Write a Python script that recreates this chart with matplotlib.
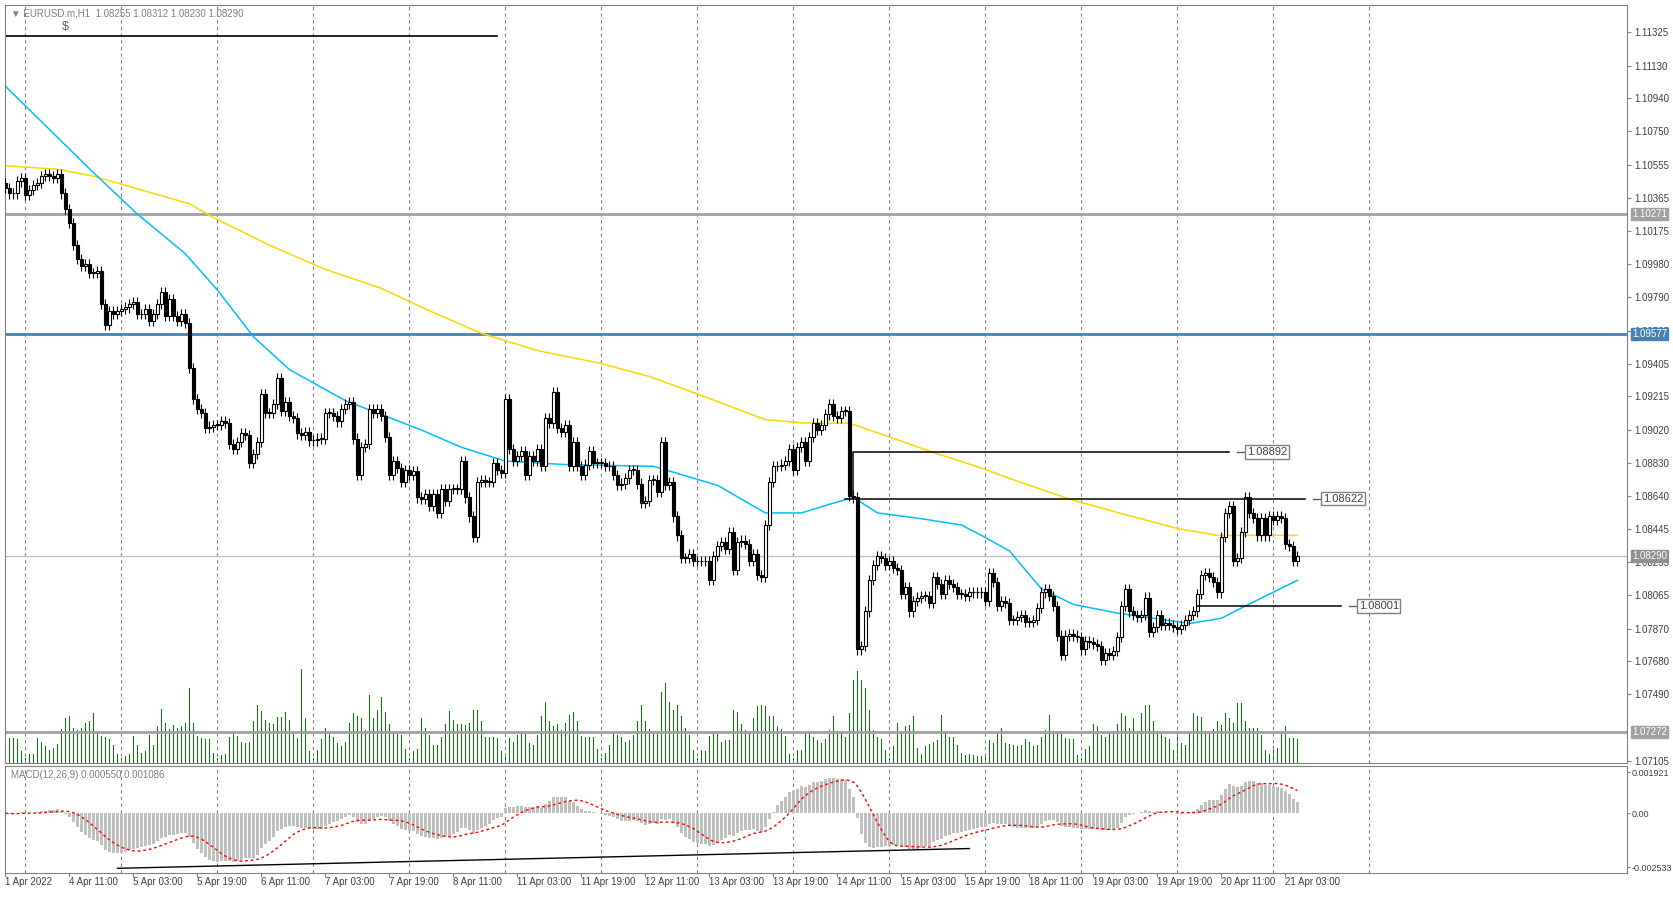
import numpy as np
import pandas as pd
import matplotlib
matplotlib.use('Agg')
import matplotlib.pyplot as plt

# ---- data (EURUSD H1, 1 Apr 19:00 .. 21 Apr 05:00) ----
closes = [
    1.1042, 1.1039, 1.1039, 1.1046, 1.1048, 1.1038, 1.1041, 1.1044, 1.1045, 1.1049,
    1.1050, 1.1049, 1.1048, 1.1050, 1.1039, 1.1030, 1.1022, 1.1009, 1.1001, 1.0997,
    1.0998, 1.0993, 1.0993, 1.0994, 1.0975, 1.0963, 1.0971, 1.0969, 1.0971, 1.0972,
    1.0973, 1.0975, 1.0976, 1.0969, 1.0969, 1.0972, 1.0965, 1.0969, 1.0975, 1.0982,
    1.0968, 1.0978, 1.0968, 1.0965, 1.0969, 1.0964, 1.0938, 1.0920, 1.0914, 1.0912,
    1.0903, 1.0904, 1.0905, 1.0905, 1.0907, 1.0906, 1.0894, 1.0891, 1.0895, 1.0900,
    1.0899, 1.0883, 1.0888, 1.0895, 1.0923, 1.0912, 1.0912, 1.0917, 1.0932, 1.0913,
    1.0918, 1.0910, 1.0909, 1.0900, 1.0899, 1.0901, 1.0896, 1.0896, 1.0897, 1.0897,
    1.0912, 1.0912, 1.0910, 1.0907, 1.0914, 1.0917, 1.0918, 1.0897, 1.0876, 1.0892,
    1.0894, 1.0914, 1.0912, 1.0914, 1.0910, 1.0898, 1.0876, 1.0884, 1.0880, 1.0872,
    1.0879, 1.0876, 1.0878, 1.0863, 1.0862, 1.0865, 1.0858, 1.0865, 1.0854, 1.0868,
    1.0861, 1.0868, 1.0868, 1.0868, 1.0884, 1.0863, 1.0852, 1.0840, 1.0872, 1.0873,
    1.0872, 1.0872, 1.0883, 1.0879, 1.0877, 1.0920, 1.0891, 1.0884, 1.0887, 1.0890,
    1.0876, 1.0887, 1.0884, 1.0891, 1.0881, 1.0909, 1.0906, 1.0924, 1.0903, 1.0901,
    1.0905, 1.0881, 1.0895, 1.0881, 1.0876, 1.0882, 1.0890, 1.0883, 1.0883, 1.0883,
    1.0881, 1.0881, 1.0876, 1.0870, 1.0871, 1.0874, 1.0879, 1.0879, 1.0871, 1.0860,
    1.0861, 1.0873, 1.0873, 1.0866, 1.0895, 1.0870, 1.0872, 1.0852, 1.0841, 1.0828,
    1.0828, 1.0830, 1.0826, 1.0826, 1.0826, 1.0826, 1.0815, 1.0829, 1.0835, 1.0837,
    1.0833, 1.0843, 1.0821, 1.0837, 1.0838, 1.0836, 1.0826, 1.0830, 1.0818, 1.0817,
    1.0847, 1.0872, 1.0881, 1.0881, 1.0882, 1.0884, 1.0891, 1.0879, 1.0892, 1.0895,
    1.0884, 1.0898, 1.0906, 1.0902, 1.0905, 1.0911, 1.0917, 1.0910, 1.0909, 1.0913,
    1.0913, 1.0864, 1.0863, 1.0775, 1.0777, 1.0797, 1.0815, 1.0824, 1.0829, 1.0828,
    1.0824, 1.0826, 1.0822, 1.0821, 1.0807, 1.0811, 1.0797, 1.0803, 1.0805, 1.0806,
    1.0806, 1.0802, 1.0817, 1.0813, 1.0807, 1.0815, 1.0813, 1.0811, 1.0807, 1.0807,
    1.0806, 1.0808, 1.0808, 1.0808, 1.0808, 1.0803, 1.0819, 1.0814, 1.0800, 1.0803,
    1.0802, 1.0792, 1.0792, 1.0794, 1.0795, 1.0791, 1.0791, 1.0792, 1.0799, 1.0808,
    1.0810, 1.0806, 1.0800, 1.0783, 1.0772, 1.0783, 1.0784, 1.0783, 1.0782, 1.0775,
    1.0780, 1.0779, 1.0778, 1.0777, 1.0769, 1.0773, 1.0772, 1.0774, 1.0782, 1.0800,
    1.0810, 1.0797, 1.0795, 1.0794, 1.0795, 1.0805, 1.0785, 1.0788, 1.0795, 1.0789,
    1.0790, 1.0789, 1.0788, 1.0787, 1.0789, 1.0792, 1.0795, 1.0797, 1.0807, 1.0818,
    1.0819, 1.0817, 1.0814, 1.0808, 1.0840, 1.0854, 1.0858, 1.0826, 1.0828, 1.0843,
    1.0863, 1.0854, 1.0851, 1.0841, 1.0851, 1.0841, 1.0852, 1.0850, 1.0852, 1.0851,
    1.0836, 1.0835, 1.0826, 1.0829,
]
first_open = 1.1045

volumes = [
    65, 52, 52, 50, 25, 10, 20, 20, 52, 45, 35, 28, 32, 40, 72, 95, 100, 75, 70, 75,
    85, 88, 105, 68, 58, 55, 50, 38, 20, 10, 15, 20, 58, 38, 22, 25, 60, 38, 78, 115,
    85, 72, 80, 75, 78, 85, 158, 85, 58, 52, 50, 50, 22, 10, 18, 20, 55, 68, 58, 45,
    42, 45, 90, 122, 110, 92, 85, 82, 98, 98, 108, 92, 65, 52, 200, 95, 25, 10, 28, 50,
    75, 62, 55, 42, 35, 45, 85, 105, 100, 95, 70, 145, 95, 112, 140, 108, 82, 65, 65, 60,
    30, 10, 25, 30, 95, 75, 60, 38, 38, 55, 82, 110, 92, 82, 82, 80, 85, 112, 112, 90,
    55, 55, 55, 52, 25, 12, 52, 45, 60, 68, 68, 42, 38, 60, 100, 130, 90, 78, 82, 70,
    85, 102, 108, 88, 58, 55, 55, 55, 30, 10, 22, 38, 65, 60, 55, 45, 48, 60, 88, 122,
    90, 72, 62, 65, 150, 170, 130, 112, 122, 100, 75, 60, 28, 10, 28, 25, 58, 62, 62, 45,
    48, 48, 112, 108, 82, 70, 68, 95, 120, 122, 120, 100, 100, 78, 72, 58, 20, 10, 28, 28,
    65, 68, 55, 48, 42, 50, 70, 100, 68, 65, 55, 105, 175, 195, 175, 158, 112, 70, 55, 50,
    28, 10, 35, 85, 65, 78, 80, 100, 32, 20, 35, 40, 45, 48, 102, 68, 55, 55, 38, 22,
    18, 20, 18, 15, 15, 15, 48, 42, 65, 75, 42, 40, 38, 35, 38, 50, 45, 35, 38, 55,
    70, 102, 68, 65, 68, 52, 50, 50, 18, 10, 30, 35, 82, 78, 60, 55, 65, 68, 82, 105,
    100, 75, 95, 68, 105, 122, 122, 90, 68, 62, 55, 50, 28, 68, 42, 38, 65, 105, 100, 98,
    68, 62, 72, 90, 80, 105, 95, 85, 128, 128, 88, 75, 75, 75, 60, 28, 20, 35, 32, 65,
    78, 52, 52, 50,
]

# moving averages sampled along the drawn lines
blue_idx = [0, 22, 33, 45, 53, 62, 71, 85, 104, 114, 125, 140, 162, 178, 190, 199,
            206, 212, 218, 228, 239, 244, 251, 259, 267, 278, 296, 304, 309, 316, 323]
blue_val = [1.1101, 1.1051, 1.1027, 1.1004, 1.0983, 1.0956, 1.0937, 1.0919, 1.0902,
            1.0892, 1.0884, 1.0882, 1.0881, 1.0870, 1.0854, 1.0854, 1.0859, 1.0863,
            1.0854, 1.0851, 1.0847, 1.0841, 1.0832, 1.0810, 1.0801, 1.0796, 1.0790,
            1.0793, 1.0799, 1.0807, 1.0815]
yellow_idx = [0, 13, 22, 37, 46, 52, 66, 80, 94, 106, 119, 133, 148, 161, 174, 190,
              200, 211, 221, 232, 244, 251, 266, 280, 293, 303, 323]
yellow_val = [1.1055, 1.1053, 1.1049, 1.1039, 1.1033, 1.1025, 1.1009, 1.0995, 1.0984,
              1.0971, 1.0958, 1.0948, 1.0941, 1.0933, 1.0922, 1.0908, 1.0906, 1.0906,
              1.0898, 1.0889, 1.0880, 1.0874, 1.0862, 1.0853, 1.0845, 1.0841, 1.0841]

price_ticks = [1.11325, 1.11130, 1.10940, 1.10750, 1.10555, 1.10365, 1.10175, 1.09980,
               1.09790, 1.09595, 1.09405, 1.09215, 1.09020, 1.08830, 1.08640, 1.08445,
               1.08255, 1.08065, 1.07870, 1.07680, 1.07490, 1.07105]
date_labels = ['1 Apr 2022', '4 Apr 11:00', '5 Apr 03:00', '5 Apr 19:00', '6 Apr 11:00',
               '7 Apr 03:00', '7 Apr 19:00', '8 Apr 11:00', '11 Apr 03:00', '11 Apr 19:00',
               '12 Apr 11:00', '13 Apr 03:00', '13 Apr 19:00', '14 Apr 11:00', '15 Apr 03:00',
               '15 Apr 19:00', '18 Apr 11:00', '19 Apr 03:00', '19 Apr 19:00', '20 Apr 11:00',
               '21 Apr 03:00']

level_grey = 1.10271
level_blue = 1.09577
level_bid = 1.08290
level_vol = 1.07272
top_line = 1.1130
lvl_a, lvl_b, lvl_c = 1.08892, 1.08622, 1.08001

# ---- figure ----
W, H = 1673, 897
fig = plt.figure(figsize=(W / 100, H / 100), dpi=100)
fig.patch.set_facecolor('white')
plt.rcParams['font.family'] = ['Liberation Sans', 'DejaVu Sans']
FS = 7
TXT = '#404040'

def box(l, t, r, b):
    return [l / W, 1 - b / H, (r - l) / W, (b - t) / H]

ax = fig.add_axes(box(5, 5, 1627, 763))
axv = ax.twinx()
axm = fig.add_axes(box(5, 766, 1627, 873))

n = len(closes)
x = np.arange(n)
c = np.array(closes)
o = np.concatenate([[first_open], c[:-1]])
wick = 0.0003
xl = (-0.125, 405.4)

# volumes underneath
axv.bar(x, volumes, width=0.25, color='#008000', zorder=1)
axv.set_ylim(0, 1607)
axv.axis('off')
ax.set_zorder(axv.get_zorder() + 1)
ax.patch.set_visible(False)

# grid (daily)
for gx in range(5, 360, 24):
    ax.axvline(gx, color='#808080', ls=(0, (3, 3)), lw=0.8, zorder=0)
    axm.axvline(gx, color='#808080', ls=(0, (3, 3)), lw=0.8, zorder=0)

# horizontal levels
ax.axhline(level_grey, color='#a0a0a0', lw=2)
ax.axhline(level_blue, color='#4682B4', lw=2)
ax.axhline(level_bid, color='#c0c0c0', lw=1)
ax.axhline(level_vol, color='#a0a0a0', lw=2)
ax.plot([-0.125, 123], [top_line, top_line], color='black', lw=1.2)
ax.text(15, top_line + 0.0002, '$', fontsize=9, color='#606060', ha='center', va='bottom')

# MAs
ax.plot(yellow_idx, yellow_val, color='#FFD700', lw=1.1, zorder=2)
ax.plot(blue_idx, blue_val, color='#00BFFF', lw=1.1, zorder=2)

# candles
hi = np.maximum(o, c) + wick
lo = np.minimum(o, c) - wick
ax.vlines(x, lo, hi, color='black', lw=0.8, zorder=3)
up = c >= o
body_lo = np.minimum(o, c)
body_h = np.maximum(np.abs(c - o), 0.00004)
ax.bar(x[up], body_h[up], bottom=body_lo[up], width=0.7, color='white',
       edgecolor='black', lw=0.8, zorder=4)
ax.bar(x[~up], body_h[~up], bottom=body_lo[~up], width=0.7, color='black',
       edgecolor='black', lw=0.8, zorder=4)

# drawn levels with labels
ax.plot([212, 212, 306], [lvl_b, lvl_a, lvl_a], color='black', lw=1.1, zorder=5)
ax.plot([210, 325], [lvl_b, lvl_b], color='black', lw=1.1, zorder=5)
ax.plot([298, 334], [lvl_c, lvl_c], color='black', lw=1.1, zorder=5)
for xs, lv in [(308, lvl_a), (327, lvl_b), (336, lvl_c)]:
    ax.plot([xs, xs + 1.7], [lv, lv], color='#606060', lw=1)
    ax.text(xs + 2.3, lv, f'{lv:.5f}', fontsize=FS + 1, color='#404040', va='center',
            ha='left', bbox=dict(boxstyle='square,pad=0.15', fc='white', ec='#808080', lw=1))

ax.set_xlim(*xl)
ax.set_ylim(1.07092, 1.11481)
ax.set_xticks([])
ax.yaxis.tick_right()
ax.set_yticks(price_ticks)
ax.set_yticklabels([f'{v:.5f}' for v in price_ticks], fontsize=FS, color=TXT)
ax.tick_params(axis='y', length=3, pad=2, color='#808080')
for s in ax.spines.values():
    s.set_color('#808080')

# price tags on axis
for lv, fc, tc in [(level_grey, '#a0a0a0', 'white'), (level_blue, '#4682B4', 'white'),
                   (level_bid, '#909090', 'white'), (level_vol, '#a0a0a0', 'white')]:
    ax.text(1.003, lv, f'{lv:.5f}', transform=ax.get_yaxis_transform(), fontsize=FS,
            color=tc, va='center', ha='left', zorder=10,
            bbox=dict(boxstyle='square,pad=0.12', fc=fc, ec=fc))

ax.text(0.004, 0.995, '\u25bc EURUSD.m,H1  1.08255 1.08312 1.08230 1.08290',
        transform=ax.transAxes, fontsize=FS, color='#808080', va='top', ha='left')

# MACD
s = pd.Series(closes)
macd = s.ewm(span=12, adjust=False).mean() - s.ewm(span=26, adjust=False).mean()
signal = macd.rolling(9, min_periods=1).mean()
axm.bar(x, macd, width=0.6, color='#C0C0C0', zorder=2)
axm.plot(x, signal, color='red', ls=(0, (2, 2)), lw=1, zorder=3)
axm.plot([28, 241], [-0.00259, -0.00166], color='black', lw=1, zorder=4)
axm.set_xlim(*xl)
axm.set_ylim(-0.00281, 0.00222)
axm.set_xticks([])
axm.yaxis.tick_right()
axm.set_yticks([0.001921, 0.0, -0.002533])
axm.set_yticklabels(['0.001921', '0.00', '-0.002533'], fontsize=6.5, color=TXT)
axm.tick_params(axis='y', length=2, pad=1, color='#808080')
for sp in axm.spines.values():
    sp.set_color('#808080')
axm.text(0.004, 0.96, 'MACD(12,26,9) 0.000550 0.001086', transform=axm.transAxes,
         fontsize=FS, color='#808080', va='top', ha='left')

# date labels
for k, lab in enumerate(date_labels):
    xi = 16 * k
    axm.plot([xi, xi], [-0.00281, -0.00281 - 0.00015], color='#808080', lw=0.8, clip_on=False)
    axm.text(xi, -0.00281 - 0.0002, lab, fontsize=FS, color=TXT, ha='left', va='top')

plt.savefig('out.png', dpi=100)
